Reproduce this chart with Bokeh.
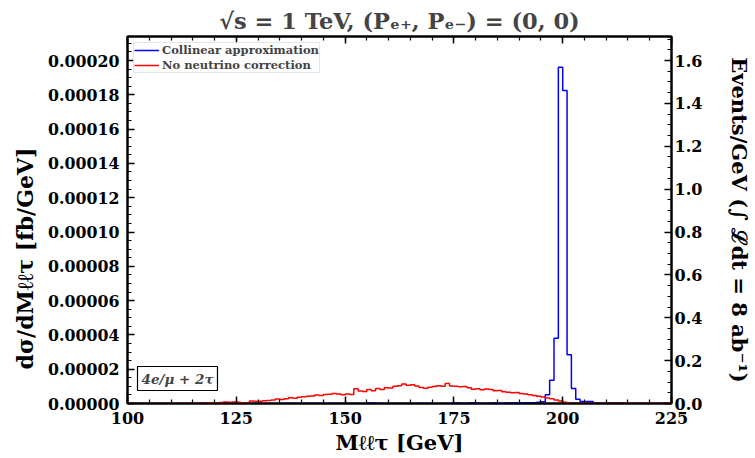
from bokeh.plotting import figure
from bokeh.models import (Range1d, LinearAxis, SingleIntervalTicker,
                          NumeralTickFormatter, Label, Title)
from bokeh.embed import file_html
from bokeh.resources import INLINE

# ---------------- data ----------------
# bin edges in GeV (1 GeV bins from 100 to 225)
edges = list(range(100, 226))

# dσ/dM in units of 1e-6 fb/GeV, one value per bin (100..224)
blue_1e6 = [
    0, 0, 0, 0, 0, 0, 0, 0, 0, 0,            # 100-109
    0, 0, 0, 0, 0, 0, 0, 0, 0, 0,            # 110-119
    0, 0, 0, 0, 0, 0, 0, 0, 0, 0,            # 120-129
    0, 0, 0, 0, 0, 0, 0, 0, 0, 0,            # 130-139
    0, 0, 0, 0, 0, 0, 0, 0, 0, 0,            # 140-149
    0, 0, 0, 0, 0, 0.3, 0.3, 0.2, 0, 0,      # 150-159
    0, 0, 0, 0, 0, 0, 0, 0, 0, 0,            # 160-169
    0, 0, 0, 0, 0, 0.3, 0.2, 0, 0.3, 0.4,    # 170-179
    0.3, 0, 0, 0.2, 0.3, 0.2, 0.2, 0.3, 0.3, 0.3,   # 180-189
    0.3, 0.4, 0.4, 0.5, 0.7, 1.0, 5.1, 13.6, 38.0, 196.0,  # 190-199
    182.5, 28.4, 8.8, 2.5, 1.2, 1.2, 1.2, 0.3, 0.2, 0.2,   # 200-209
    0.1, 0.1, 0.1, 0, 0, 0, 0, 0, 0, 0,      # 210-219
    0, 0, 0, 0, 0,                           # 220-224
]
red_1e6 = [
    0, 0, 0, 0, 0, 0, 0, 0, 0, 0,                       # 100-109
    0, 0, 0, 0, 0.2, 0.2, 0.3, 0.2, 0.3, 0.5,           # 110-119
    0.5, 0.6, 0.9, 0.8, 0.9, 0.7, 0.4, 0.5, 1.5, 1.3,   # 120-129
    1.3, 1.6, 1.7, 2.0, 2.6, 2.4, 2.8, 3.3, 3.0, 3.6,   # 130-139
    4.0, 4.2, 4.4, 4.9, 4.7, 5.2, 5.4, 5.8, 5.5, 5.1,   # 140-149
    5.6, 5.3, 8.6, 7.3, 7.0, 8.2, 7.4, 8.7, 8.2, 9.2,   # 150-159
    9.0, 10.0, 10.4, 11.3, 10.6, 11.0, 10.2, 9.4, 8.9, 9.5,  # 160-169
    9.9, 10.4, 10.0, 11.7, 10.2, 10.0, 9.8, 9.9, 9.2, 8.3,   # 170-179
    8.6, 8.0, 8.4, 8.1, 7.4, 7.6, 6.9, 6.6, 6.3, 6.4,   # 180-189
    5.8, 5.6, 5.1, 4.6, 4.3, 3.8, 3.2, 2.8, 2.0, 1.4,   # 190-199
    0.7, 0.3, 0.2, 0.2, 0.1, 0.2, 0.2, 0.1, 0.2, 0.2,   # 200-209
    0.1, 0.2, 0.1, 0.2, 0.2, 0.1, 0.1, 0.2, 0.1, 0.1,   # 210-219
    0.2, 0.1, 0.1, 0.2, 0.1,                            # 220-224
]
series_names = ["Collinear approximation", "No neutrino correction"]
series_colors = ["#0000ff", "#ff0000"]

lumi_fb = 8000.0          # 8 ab^-1 in fb^-1
x_min, x_max = 100, 225
y_max = 0.000214          # fb/GeV

title_text = "√s = 1 TeV, (Pₑ₊, Pₑ₋) = (0, 0)"
x_title = "Mℓℓτ [GeV]"
y_title = "dσ/dMℓℓτ [fb/GeV]"
y2_title = "Events/GeV (∫ ℒdt = 8 ab⁻¹)"
channel_text = "4e/μ + 2τ"

FONT = "DejaVu Serif"

# ---------------- figure ----------------
p = figure(width=755, height=458,
           x_range=Range1d(x_min, x_max), y_range=Range1d(0, y_max),
           x_axis_type=None, y_axis_type=None,
           output_backend="svg", toolbar_location=None,
           min_border_left=127, min_border_right=69,
           min_border_top=36, min_border_bottom=55)
p.extra_y_ranges = {"events": Range1d(0, y_max * lumi_fb)}
p.background_fill_color = "white"
p.border_fill_color = "white"
p.outline_line_color = "black"
p.outline_line_width = 2

p.title.text = title_text
p.title.align = "center"
p.title.text_font = FONT
p.title.text_font_style = "bold"
p.title.text_font_size = "22.5px"
p.title.standoff = 6


def style_axis(ax, interval, minor, label_size="16px"):
    ax.ticker = SingleIntervalTicker(interval=interval, num_minor_ticks=minor)
    ax.major_tick_in = 7
    ax.major_tick_out = 0
    ax.minor_tick_in = 4
    ax.minor_tick_out = 0
    ax.axis_line_width = 2
    ax.axis_line_color = "black"
    ax.major_tick_line_width = 1.5
    ax.minor_tick_line_width = 1.2
    ax.major_label_text_font = FONT
    ax.major_label_text_font_style = "bold"
    ax.major_label_text_font_size = label_size
    ax.major_label_text_color = "black"
    ax.axis_label_text_font = FONT
    ax.axis_label_text_font_style = "bold"
    ax.axis_label_text_font_size = "21px"
    ax.axis_label_text_color = "black"


left = LinearAxis(formatter=NumeralTickFormatter(format="0.00000"))
style_axis(left, 0.00002, 4, label_size="15.8px")
left.major_label_standoff = 8
p.add_layout(left, "left")

# left axis title as a side-panel title (offset along the axis as in the reference)
p.add_layout(Title(text=y_title, align="left", offset=34, standoff=14,
                   vertical_align="middle", text_font=FONT,
                   text_font_style="bold", text_font_size="22px",
                   text_color="black"), "left")

right = LinearAxis(y_range_name="events", axis_label=y2_title,
                   formatter=NumeralTickFormatter(format="0.0"))
style_axis(right, 0.2, 4)
right.major_label_standoff = 3
right.axis_label_standoff = 22
p.add_layout(right, "right")

bottom = LinearAxis(axis_label=x_title)
style_axis(bottom, 25, 5)
bottom.major_label_standoff = 8
bottom.axis_label_standoff = 3
p.add_layout(bottom, "below")

top = LinearAxis()
style_axis(top, 25, 5, label_size="1px")
top.major_label_text_color = None
top.major_label_standoff = 0
p.add_layout(top, "above")

# ---------------- histograms ----------------
for vals, name, col in zip([blue_1e6, red_1e6], series_names, series_colors):
    ys = [v * 1e-6 for v in vals]
    ys = ys + [ys[-1]]
    p.step(x=edges, y=ys, mode="after", line_color=col, line_width=1.5,
           legend_label=name)

lg = p.legend[0]
lg.location = "top_left"
lg.label_text_font = FONT
lg.label_text_font_style = "bold"
lg.label_text_font_size = "11.5px"
lg.border_line_color = "#cccccc"
lg.border_line_width = 1
lg.background_fill_alpha = 0.8
lg.margin = 6
lg.padding = 0
lg.spacing = 1
lg.label_height = 14
lg.glyph_height = 14
lg.glyph_width = 25
lg.label_standoff = 3

box = Label(x=10, y=13, x_units="screen", y_units="screen",
            text=channel_text, text_font=FONT,
            text_font_style="bold italic", text_font_size="13.5px",
            text_align="left", text_baseline="bottom",
            border_line_color="black", border_line_width=1.2,
            background_fill_color="white", padding=4)
p.add_layout(box)

open("out.html", "w").write(file_html(p, INLINE))
